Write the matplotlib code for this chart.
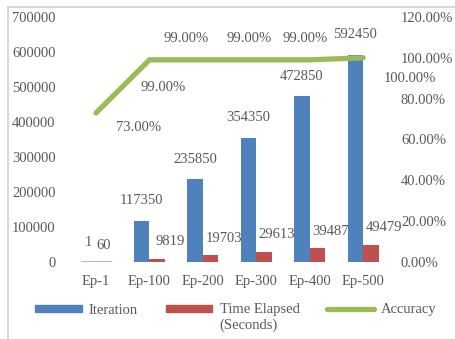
import matplotlib.pyplot as plt
import numpy as np
from matplotlib.patches import Rectangle
from matplotlib.lines import Line2D
from matplotlib.ticker import FuncFormatter

plt.rcParams['font.family'] = ['Liberation Serif', 'DejaVu Serif']

# Training progress per epoch checkpoint
epochs = ['Ep-1', 'Ep-100', 'Ep-200', 'Ep-300', 'Ep-400', 'Ep-500']
iterations = [1, 117350, 235850, 354350, 472850, 592450]
time_elapsed = [60, 9819, 19703, 29613, 39487, 49479]
accuracy = [73.0, 99.0, 99.0, 99.0, 99.0, 100.0]

blue = '#4F81BD'
red = '#C0504D'
green = '#9BBB59'
gray = '#595959'
fs = 10.5

fig = plt.figure(figsize=(4.56, 3.39), dpi=100)
ax = fig.add_axes([0.152, 0.227, 0.703, 0.723])
ax2 = ax.twinx()

x = np.arange(len(epochs))
w = 0.29
ax.bar(x - w / 2, iterations, w, color=blue)
ax.bar(x + w / 2, time_elapsed, w, color=red)
# tiny values still show a thin line at the base
base = np.zeros(len(x))
ax.hlines(base, x - w, x, color=blue, lw=1.2, alpha=0.6)
ax.hlines(base, x, x + w, color=red, lw=1.2, alpha=0.6)

ax2.plot(x, accuracy, color=green, lw=3.8, solid_capstyle='round',
         solid_joinstyle='miter')

ax.set_xlim(-0.5, len(epochs) - 0.5)
ax.set_ylim(0, 700000)
ax2.set_ylim(0, 120)
ax.set_yticks(range(0, 700001, 100000))
ax2.set_yticks(range(0, 121, 20))
ax.set_xticks(x, epochs)
ax2.yaxis.set_major_formatter(FuncFormatter(lambda v, p: f'{v:.2f}%'))

for a in (ax, ax2):
    for s in a.spines.values():
        s.set_visible(False)
    a.tick_params(length=0, labelsize=fs, labelcolor=gray)
ax.tick_params(axis='y', pad=10)
ax.tick_params(axis='x', pad=9)
ax2.tick_params(axis='y', pad=8)

# value labels
for i, v in enumerate(iterations):
    ax.annotate(str(v), (x[i] - w / 2, v), xytext=(0, 20), textcoords='offset pixels',
                ha='center', va='center', fontsize=fs, color=gray)
time_dx = [0, 13, 13, 13, 13, 13]
for i, v in enumerate(time_elapsed):
    ax.annotate(str(v), (x[i] + w / 2, v), xytext=(time_dx[i], 17), textcoords='offset pixels',
                ha='center', va='center', fontsize=fs, color=gray)
acc_offsets = [(43, -15), (14, -28), (-17, 21), (-7, 21), (-5, 21), (47, -21)]
for i, v in enumerate(accuracy):
    ax2.annotate(f'{v:.2f}%', (x[i], v), xytext=acc_offsets[i], textcoords='offset pixels',
                 ha='center', va='center', fontsize=fs, color=gray)

handles = [Rectangle((0, 0), 1, 1, color=blue),
           Rectangle((0, 0), 1, 1, color=red),
           Line2D([], [], color=green, lw=3.8, solid_capstyle='round')]
labels = ['Iteration', 'Time Elapsed', 'Accuracy']
leg = fig.legend(handles, labels, ncol=3, loc='center left', bbox_to_anchor=(35 / 456, 1 - 310 / 339),
                 frameon=False, fontsize=fs, handlelength=3.2, handleheight=0.4,
                 handletextpad=0.5, columnspacing=1.9, labelcolor=gray,
                 borderpad=0, borderaxespad=0)

# second line of the time label sits under the first
fig.canvas.draw()
bb = leg.get_texts()[1].get_window_extent().transformed(fig.transFigure.inverted())
fig.text(bb.x0, bb.y0 - 0.005, '(Seconds)', ha='left', va='top', fontsize=fs, color=gray)

# light outer frame
fig.patches.append(Rectangle((8 / 456, -0.1), 1.2, 1 - 7 / 339 + 0.1, transform=fig.transFigure,
                             fill=False, edgecolor='#D9D9D9', lw=1.5))

fig.savefig('out.png', dpi=100)
